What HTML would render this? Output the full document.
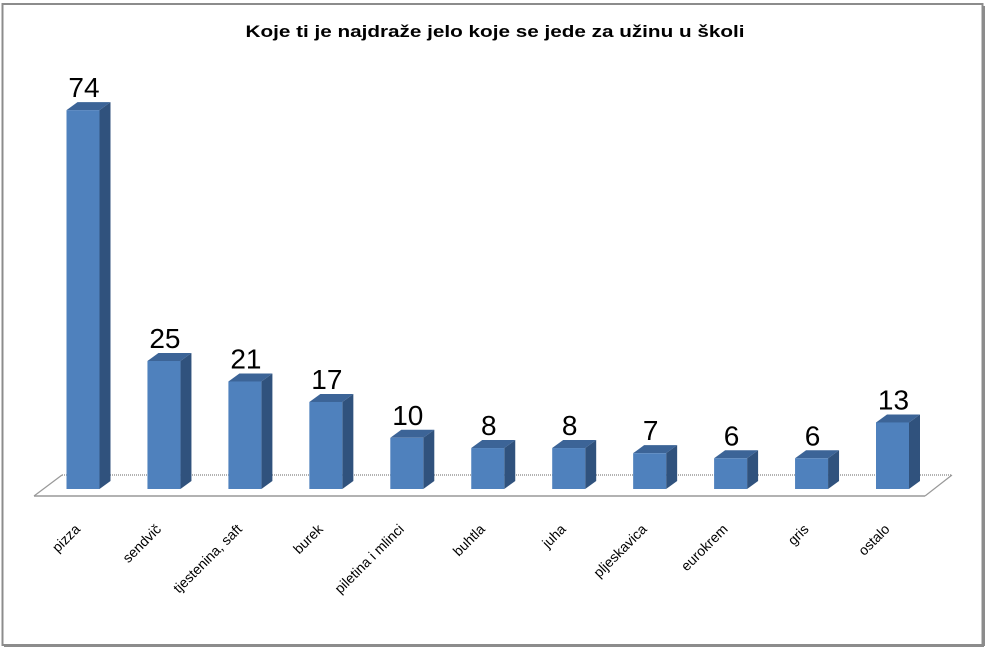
<!DOCTYPE html>
<html><head><meta charset="utf-8"><style>
html,body{margin:0;padding:0;background:#fff;}
svg{display:block;font-family:"Liberation Sans",sans-serif;}
</style></head><body>
<svg id="chart" width="987" height="648" viewBox="0 0 987 648" xmlns="http://www.w3.org/2000/svg">
<rect x="2.5" y="4" width="980" height="641" fill="#fff" stroke="#8c8c8c" stroke-width="2"/>
<line x1="984" y1="6" x2="984" y2="646" stroke="#8c8c8c" stroke-width="2"/>
<line x1="4" y1="646" x2="984" y2="646" stroke="#8c8c8c" stroke-width="2"/>
<text x="495" y="37" text-anchor="middle" font-size="17" font-weight="bold" textLength="499" lengthAdjust="spacingAndGlyphs">Koje ti je najdraže jelo koje se jede za užinu u školi</text>
<g>
<polygon points="34,496 62,475 952,475 925,496" fill="#fff" stroke="none"/>
<line x1="62" y1="475" x2="952" y2="475" stroke="#999" stroke-width="1.5" stroke-dasharray="1,1"/>
<line x1="34" y1="496" x2="62" y2="475" stroke="#999" stroke-width="1.2"/>
<line x1="925" y1="496" x2="952" y2="475" stroke="#999" stroke-width="1.2"/>
<line x1="34" y1="496" x2="925" y2="496" stroke="#999" stroke-width="1.5"/>
</g>
<g id="bars"></g>
</svg>
<script>
const categories = ["pizza","sendvič","tjestenina, saft","burek","piletina i mlinci","buhtla","juha","pljeskavica","eurokrem","gris","ostalo"];
const values = [74,25,21,17,10,8,8,7,6,6,13];
const valueLabels = ["74","25","21","17","10","8","8","7","6","6","13"];

const NS = "http://www.w3.org/2000/svg";
const baseY = 489, unit = 5.12;
function xScale(i){ return 83 + i*80.95; }
function yScale(v){ return baseY - v*unit; }
const g = document.getElementById('bars');
function mk(tag, attrs){ const e=document.createElementNS(NS,tag); for(const k in attrs) e.setAttribute(k,attrs[k]); return e; }
const bw = 33, dx = 11, dy = 8;
categories.forEach((c,i)=>{
  const cx = xScale(i), x0 = cx - bw/2, yt = yScale(values[i]);
  const grp = mk('g',{});
  
  
  grp.appendChild(mk('polygon',{points:`${x0+bw},${yt} ${x0+bw+dx},${yt-dy} ${x0+bw+dx},${baseY-dy} ${x0+bw},${baseY}`, fill:'#30527d'}));
  grp.appendChild(mk('polygon',{points:`${x0},${yt} ${x0+dx},${yt-dy} ${x0+bw+dx},${yt-dy} ${x0+bw},${yt}`, fill:'#3c6497'}));
  grp.appendChild(mk('rect',{x:x0, y:yt, width:bw, height:baseY-yt, fill:'#4f81bd'}));
  g.appendChild(grp);
  const t = mk('text',{x:cx+1, y:yt-13, 'text-anchor':'middle', 'font-size':'28', fill:'#000'});
  t.textContent = valueLabels[i];
  
  
  g.appendChild(t);
  const l = mk('text',{x:cx-2, y:530, 'text-anchor':'end', 'font-size':'14', fill:'#000', transform:`rotate(-45 ${cx-2} 530)`});
  l.textContent = c;
  
  
  g.appendChild(l);
});
</script>
</body></html>
